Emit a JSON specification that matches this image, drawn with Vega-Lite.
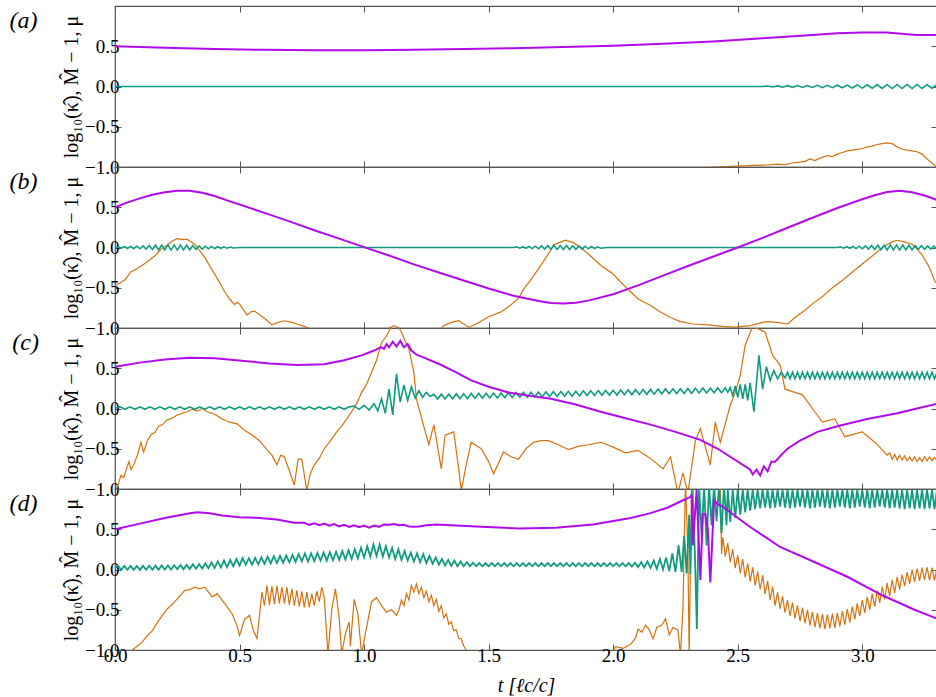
{
"$schema": "https://vega.github.io/schema/vega-lite/v6.json",
"background": "white",
"padding": {"left": 8, "top": 4, "right": 0, "bottom": 0},
"spacing": 0,
"bounds": "flush",
"config": {
 "font": "Liberation Serif",
 "view": {"stroke": "#555", "strokeWidth": 1.2},
 "axis": {"grid": false, "domain": false, "tickColor": "#555", "tickSize": -6, "tickWidth": 1, "labelFont": "Liberation Serif", "labelFontSize": 19, "labelColor": "#000", "titleFont": "Liberation Serif", "titleFontSize": 20, "titleFontWeight": "normal", "titleColor": "#000", "labelFlush": false, "labelPadding": 2},
 "axisY": {"titleFontSize": 20}
},
"datasets": {
"a_k": [{"t":2.3,"v":-1.02},{"t":2.4,"v":-1.0},{"t":2.5,"v":-0.99},{"t":2.56,"v":-0.98},{"t":2.62,"v":-0.975},{"t":2.66,"v":-0.965},{"t":2.69,"v":-0.97},{"t":2.72,"v":-0.95},{"t":2.75,"v":-0.94},{"t":2.77,"v":-0.93},{"t":2.79,"v":-0.9},{"t":2.81,"v":-0.92},{"t":2.83,"v":-0.89},{"t":2.86,"v":-0.86},{"t":2.88,"v":-0.87},{"t":2.9,"v":-0.84},{"t":2.92,"v":-0.82},{"t":2.94,"v":-0.8},{"t":2.96,"v":-0.79},{"t":2.98,"v":-0.78},{"t":3.0,"v":-0.77},{"t":3.02,"v":-0.75},{"t":3.04,"v":-0.74},{"t":3.06,"v":-0.72},{"t":3.08,"v":-0.71},{"t":3.1,"v":-0.7},{"t":3.12,"v":-0.71},{"t":3.14,"v":-0.75},{"t":3.16,"v":-0.78},{"t":3.18,"v":-0.79},{"t":3.2,"v":-0.8},{"t":3.22,"v":-0.81},{"t":3.24,"v":-0.84},{"t":3.26,"v":-0.9},{"t":3.28,"v":-0.95},{"t":3.3,"v":-1.0}],
"a_M": [{"t":0,"v":0},{"t":2.6,"v":0},{"t":2.62,"v":0.006},{"t":2.64,"v":-0.006},{"t":2.66,"v":0.008},{"t":2.68,"v":-0.008},{"t":2.7,"v":0.01},{"t":2.72,"v":-0.01},{"t":2.74,"v":0.012},{"t":2.76,"v":-0.012},{"t":2.78,"v":0.012},{"t":2.8,"v":-0.012},{"t":2.82,"v":0.014},{"t":2.84,"v":-0.014},{"t":2.86,"v":0.015},{"t":2.88,"v":-0.015},{"t":2.9,"v":0.016},{"t":2.92,"v":-0.016},{"t":2.94,"v":0.018},{"t":2.96,"v":-0.018},{"t":2.98,"v":0.02},{"t":3.0,"v":-0.02},{"t":3.02,"v":0.022},{"t":3.04,"v":-0.022},{"t":3.06,"v":0.024},{"t":3.08,"v":-0.024},{"t":3.1,"v":0.025},{"t":3.12,"v":-0.025},{"t":3.14,"v":0.025},{"t":3.16,"v":-0.025},{"t":3.18,"v":0.025},{"t":3.2,"v":-0.025},{"t":3.22,"v":0.025},{"t":3.24,"v":-0.025},{"t":3.26,"v":0.022},{"t":3.28,"v":-0.022},{"t":3.3,"v":0.02}],
"a_mu": [{"t":0,"v":0.5},{"t":0.2,"v":0.48},{"t":0.4,"v":0.465},{"t":0.6,"v":0.455},{"t":0.8,"v":0.45},{"t":1.0,"v":0.45},{"t":1.2,"v":0.455},{"t":1.4,"v":0.465},{"t":1.6,"v":0.475},{"t":1.8,"v":0.49},{"t":2.0,"v":0.505},{"t":2.2,"v":0.53},{"t":2.4,"v":0.56},{"t":2.6,"v":0.6},{"t":2.8,"v":0.64},{"t":2.9,"v":0.66},{"t":3.0,"v":0.67},{"t":3.1,"v":0.67},{"t":3.18,"v":0.65},{"t":3.22,"v":0.64},{"t":3.3,"v":0.64}],
"b_k": [{"t":0,"v":-0.47},{"t":0.02,"v":-0.44},{"t":0.04,"v":-0.4},{"t":0.064,"v":-0.3},{"t":0.08,"v":-0.28},{"t":0.1,"v":-0.24},{"t":0.12,"v":-0.2},{"t":0.145,"v":-0.14},{"t":0.165,"v":-0.09},{"t":0.185,"v":-0.02},{"t":0.21,"v":0.03},{"t":0.23,"v":0.08},{"t":0.25,"v":0.11},{"t":0.27,"v":0.1},{"t":0.29,"v":0.1},{"t":0.305,"v":0.07},{"t":0.32,"v":0.04},{"t":0.337,"v":-0.03},{"t":0.36,"v":-0.12},{"t":0.386,"v":-0.26},{"t":0.41,"v":-0.38},{"t":0.44,"v":-0.55},{"t":0.46,"v":-0.64},{"t":0.48,"v":-0.71},{"t":0.49,"v":-0.68},{"t":0.5,"v":-0.7},{"t":0.515,"v":-0.77},{"t":0.53,"v":-0.84},{"t":0.545,"v":-0.8},{"t":0.56,"v":-0.79},{"t":0.6,"v":-0.88},{"t":0.63,"v":-0.96},{"t":0.655,"v":-0.93},{"t":0.68,"v":-0.91},{"t":0.71,"v":-0.93},{"t":0.73,"v":-0.95},{"t":0.76,"v":-0.98},{"t":0.79,"v":-1.02},{"t":1.08,"v":-1.05},{"t":1.1,"v":-1.0},{"t":1.12,"v":-0.97},{"t":1.14,"v":-1.0},{"t":1.16,"v":-1.05},{"t":1.3,"v":-1.05},{"t":1.32,"v":-0.97},{"t":1.35,"v":-0.93},{"t":1.38,"v":-0.91},{"t":1.4,"v":-0.95},{"t":1.42,"v":-0.99},{"t":1.45,"v":-0.95},{"t":1.5,"v":-0.86},{"t":1.55,"v":-0.8},{"t":1.59,"v":-0.71},{"t":1.62,"v":-0.63},{"t":1.64,"v":-0.52},{"t":1.67,"v":-0.4},{"t":1.71,"v":-0.22},{"t":1.74,"v":-0.08},{"t":1.76,"v":0.03},{"t":1.79,"v":0.07},{"t":1.81,"v":0.09},{"t":1.84,"v":0.06},{"t":1.87,"v":0.0},{"t":1.9,"v":-0.08},{"t":1.95,"v":-0.22},{"t":2.0,"v":-0.33},{"t":2.03,"v":-0.43},{"t":2.07,"v":-0.55},{"t":2.1,"v":-0.64},{"t":2.15,"v":-0.72},{"t":2.19,"v":-0.8},{"t":2.23,"v":-0.87},{"t":2.27,"v":-0.92},{"t":2.32,"v":-0.95},{"t":2.38,"v":-0.96},{"t":2.44,"v":-0.98},{"t":2.49,"v":-0.99},{"t":2.55,"v":-0.97},{"t":2.6,"v":-0.93},{"t":2.62,"v":-0.92},{"t":2.66,"v":-0.93},{"t":2.7,"v":-0.95},{"t":2.73,"v":-0.87},{"t":2.77,"v":-0.78},{"t":2.8,"v":-0.7},{"t":2.84,"v":-0.61},{"t":2.88,"v":-0.5},{"t":2.92,"v":-0.41},{"t":2.97,"v":-0.28},{"t":3.01,"v":-0.18},{"t":3.05,"v":-0.08},{"t":3.09,"v":0.02},{"t":3.12,"v":0.07},{"t":3.14,"v":0.09},{"t":3.17,"v":0.07},{"t":3.2,"v":0.04},{"t":3.22,"v":-0.02},{"t":3.24,"v":-0.09},{"t":3.27,"v":-0.25},{"t":3.29,"v":-0.41},{"t":3.3,"v":-0.45}],
"b_M": [{"t":0,"v":0},{"t":0.0125,"v":0.01},{"t":0.025,"v":-0.01},{"t":0.0375,"v":0.012},{"t":0.05,"v":-0.012},{"t":0.0625,"v":0.014},{"t":0.075,"v":-0.014},{"t":0.0875,"v":0.016},{"t":0.1,"v":-0.016},{"t":0.1125,"v":0.02},{"t":0.125,"v":-0.02},{"t":0.1375,"v":0.024},{"t":0.15,"v":-0.024},{"t":0.1625,"v":0.028},{"t":0.175,"v":-0.028},{"t":0.1875,"v":0.03},{"t":0.2,"v":-0.03},{"t":0.2125,"v":0.032},{"t":0.225,"v":-0.032},{"t":0.2375,"v":0.032},{"t":0.25,"v":-0.032},{"t":0.2625,"v":0.03},{"t":0.275,"v":-0.03},{"t":0.2875,"v":0.028},{"t":0.3,"v":-0.028},{"t":0.3125,"v":0.024},{"t":0.325,"v":-0.024},{"t":0.3375,"v":0.02},{"t":0.35,"v":-0.02},{"t":0.3625,"v":0.016},{"t":0.375,"v":-0.016},{"t":0.3875,"v":0.013},{"t":0.4,"v":-0.013},{"t":0.4125,"v":0.01},{"t":0.425,"v":-0.01},{"t":0.4375,"v":0.008},{"t":0.45,"v":-0.008},{"t":0.4625,"v":0.006},{"t":0.475,"v":-0.006},{"t":0.5,"v":0},{"t":1.6,"v":0},{"t":1.6125,"v":0.008},{"t":1.625,"v":-0.008},{"t":1.6375,"v":0.01},{"t":1.65,"v":-0.01},{"t":1.6625,"v":0.013},{"t":1.675,"v":-0.013},{"t":1.6875,"v":0.016},{"t":1.7,"v":-0.016},{"t":1.7125,"v":0.02},{"t":1.725,"v":-0.02},{"t":1.7375,"v":0.022},{"t":1.75,"v":-0.022},{"t":1.7625,"v":0.025},{"t":1.775,"v":-0.025},{"t":1.7875,"v":0.025},{"t":1.8,"v":-0.025},{"t":1.8125,"v":0.024},{"t":1.825,"v":-0.024},{"t":1.8375,"v":0.022},{"t":1.85,"v":-0.022},{"t":1.8625,"v":0.02},{"t":1.875,"v":-0.02},{"t":1.8875,"v":0.016},{"t":1.9,"v":-0.016},{"t":1.9125,"v":0.012},{"t":1.925,"v":-0.012},{"t":1.9375,"v":0.009},{"t":1.95,"v":-0.009},{"t":1.975,"v":0},{"t":2.9,"v":0},{"t":2.9125,"v":0.008},{"t":2.925,"v":-0.008},{"t":2.9375,"v":0.01},{"t":2.95,"v":-0.01},{"t":2.9625,"v":0.013},{"t":2.975,"v":-0.013},{"t":2.9875,"v":0.016},{"t":3.0,"v":-0.016},{"t":3.0125,"v":0.02},{"t":3.025,"v":-0.02},{"t":3.0375,"v":0.024},{"t":3.05,"v":-0.024},{"t":3.0625,"v":0.028},{"t":3.075,"v":-0.028},{"t":3.0875,"v":0.03},{"t":3.1,"v":-0.03},{"t":3.1125,"v":0.032},{"t":3.125,"v":-0.032},{"t":3.1375,"v":0.032},{"t":3.15,"v":-0.032},{"t":3.1625,"v":0.03},{"t":3.175,"v":-0.03},{"t":3.1875,"v":0.028},{"t":3.2,"v":-0.028},{"t":3.2125,"v":0.025},{"t":3.225,"v":-0.025},{"t":3.2375,"v":0.022},{"t":3.25,"v":-0.022},{"t":3.2625,"v":0.02},{"t":3.275,"v":-0.02},{"t":3.2875,"v":0.018},{"t":3.3,"v":-0.018}],
"b_mu": [{"t":0,"v":0.5},{"t":0.05,"v":0.56},{"t":0.1,"v":0.61},{"t":0.15,"v":0.655},{"t":0.2,"v":0.685},{"t":0.25,"v":0.705},{"t":0.3,"v":0.705},{"t":0.35,"v":0.68},{"t":0.4,"v":0.64},{"t":0.45,"v":0.585},{"t":0.5,"v":0.535},{"t":0.6,"v":0.43},{"t":0.7,"v":0.325},{"t":0.8,"v":0.215},{"t":0.9,"v":0.11},{"t":1.0,"v":0.005},{"t":1.1,"v":-0.1},{"t":1.2,"v":-0.21},{"t":1.3,"v":-0.31},{"t":1.4,"v":-0.41},{"t":1.5,"v":-0.51},{"t":1.6,"v":-0.6},{"t":1.7,"v":-0.665},{"t":1.75,"v":-0.69},{"t":1.8,"v":-0.695},{"t":1.85,"v":-0.685},{"t":1.9,"v":-0.66},{"t":2.0,"v":-0.58},{"t":2.1,"v":-0.47},{"t":2.2,"v":-0.35},{"t":2.3,"v":-0.23},{"t":2.4,"v":-0.115},{"t":2.5,"v":0.0},{"t":2.6,"v":0.12},{"t":2.7,"v":0.245},{"t":2.8,"v":0.37},{"t":2.9,"v":0.49},{"t":3.0,"v":0.6},{"t":3.05,"v":0.65},{"t":3.1,"v":0.69},{"t":3.15,"v":0.705},{"t":3.2,"v":0.685},{"t":3.25,"v":0.645},{"t":3.3,"v":0.59}],
"c_k": [{"t":0,"v":-1.05},{"t":0.015,"v":-0.92},{"t":0.024,"v":-0.83},{"t":0.035,"v":-0.86},{"t":0.045,"v":-0.76},{"t":0.056,"v":-0.66},{"t":0.065,"v":-0.76},{"t":0.075,"v":-0.7},{"t":0.09,"v":-0.58},{"t":0.104,"v":-0.42},{"t":0.115,"v":-0.54},{"t":0.13,"v":-0.4},{"t":0.145,"v":-0.32},{"t":0.16,"v":-0.3},{"t":0.175,"v":-0.22},{"t":0.19,"v":-0.2},{"t":0.21,"v":-0.14},{"t":0.23,"v":-0.12},{"t":0.25,"v":-0.08},{"t":0.27,"v":-0.06},{"t":0.29,"v":-0.04},{"t":0.31,"v":-0.01},{"t":0.33,"v":-0.03},{"t":0.35,"v":0.0},{"t":0.37,"v":-0.04},{"t":0.39,"v":-0.06},{"t":0.41,"v":-0.09},{"t":0.43,"v":-0.13},{"t":0.46,"v":-0.17},{"t":0.49,"v":-0.19},{"t":0.52,"v":-0.27},{"t":0.55,"v":-0.33},{"t":0.58,"v":-0.4},{"t":0.61,"v":-0.51},{"t":0.63,"v":-0.58},{"t":0.65,"v":-0.7},{"t":0.665,"v":-0.58},{"t":0.68,"v":-0.6},{"t":0.72,"v":-0.95},{"t":0.735,"v":-0.63},{"t":0.75,"v":-0.63},{"t":0.77,"v":-1.02},{"t":0.785,"v":-0.8},{"t":0.8,"v":-0.7},{"t":0.82,"v":-0.62},{"t":0.84,"v":-0.5},{"t":0.865,"v":-0.4},{"t":0.89,"v":-0.29},{"t":0.91,"v":-0.22},{"t":0.95,"v":-0.04},{"t":0.97,"v":0.06},{"t":0.99,"v":0.2},{"t":1.01,"v":0.3},{"t":1.03,"v":0.45},{"t":1.05,"v":0.6},{"t":1.07,"v":0.82},{"t":1.09,"v":0.9},{"t":1.11,"v":1.02},{"t":1.13,"v":1.05},{"t":1.15,"v":0.95},{"t":1.17,"v":0.8},{"t":1.18,"v":0.74},{"t":1.2,"v":0.45},{"t":1.21,"v":0.12},{"t":1.235,"v":-0.17},{"t":1.26,"v":-0.45},{"t":1.28,"v":-0.2},{"t":1.31,"v":-0.75},{"t":1.325,"v":-0.33},{"t":1.36,"v":-0.29},{"t":1.38,"v":-0.75},{"t":1.39,"v":-1.02},{"t":1.41,"v":-0.7},{"t":1.43,"v":-0.42},{"t":1.45,"v":-0.46},{"t":1.47,"v":-0.5},{"t":1.5,"v":-0.66},{"t":1.52,"v":-0.81},{"t":1.56,"v":-0.54},{"t":1.59,"v":-0.6},{"t":1.62,"v":-0.63},{"t":1.65,"v":-0.5},{"t":1.68,"v":-0.42},{"t":1.71,"v":-0.4},{"t":1.74,"v":-0.4},{"t":1.78,"v":-0.45},{"t":1.82,"v":-0.51},{"t":1.86,"v":-0.47},{"t":1.9,"v":-0.45},{"t":1.95,"v":-0.42},{"t":2.0,"v":-0.48},{"t":2.05,"v":-0.55},{"t":2.1,"v":-0.52},{"t":2.15,"v":-0.62},{"t":2.2,"v":-0.75},{"t":2.23,"v":-0.6},{"t":2.26,"v":-1.05},{"t":2.28,"v":-0.8},{"t":2.3,"v":-1.05},{"t":2.33,"v":-0.4},{"t":2.35,"v":-0.25},{"t":2.39,"v":-0.7},{"t":2.41,"v":-0.17},{"t":2.43,"v":-0.42},{"t":2.47,"v":0.04},{"t":2.49,"v":0.2},{"t":2.51,"v":0.41},{"t":2.53,"v":0.79},{"t":2.56,"v":1.02},{"t":2.61,"v":0.95},{"t":2.64,"v":0.66},{"t":2.67,"v":0.54},{"t":2.69,"v":0.24},{"t":2.73,"v":0.2},{"t":2.76,"v":0.17},{"t":2.8,"v":0.0},{"t":2.84,"v":-0.17},{"t":2.89,"v":-0.13},{"t":2.93,"v":-0.35},{"t":3.0,"v":-0.29},{"t":3.05,"v":-0.42},{"t":3.07,"v":-0.48},{"t":3.1,"v":-0.58},{"t":3.11,"v":-0.55},{"t":3.12,"v":-0.63},{"t":3.13,"v":-0.57},{"t":3.14,"v":-0.64},{"t":3.15,"v":-0.58},{"t":3.16,"v":-0.64},{"t":3.17,"v":-0.59},{"t":3.18,"v":-0.65},{"t":3.19,"v":-0.6},{"t":3.2,"v":-0.65},{"t":3.21,"v":-0.6},{"t":3.22,"v":-0.66},{"t":3.23,"v":-0.61},{"t":3.24,"v":-0.66},{"t":3.25,"v":-0.6},{"t":3.26,"v":-0.65},{"t":3.27,"v":-0.6},{"t":3.28,"v":-0.65},{"t":3.29,"v":-0.61},{"t":3.3,"v":-0.64}],
"c_M": [{"t":0,"v":0.005},{"t":0.02,"v":0.02},{"t":0.04,"v":-0.01},{"t":0.06,"v":0.02},{"t":0.08,"v":-0.01},{"t":0.1,"v":0.02},{"t":0.12,"v":-0.01},{"t":0.14,"v":0.02},{"t":0.16,"v":-0.01},{"t":0.18,"v":0.02},{"t":0.2,"v":-0.01},{"t":0.22,"v":0.02},{"t":0.24,"v":-0.01},{"t":0.26,"v":0.02},{"t":0.28,"v":-0.01},{"t":0.3,"v":0.02},{"t":0.32,"v":-0.01},{"t":0.34,"v":0.02},{"t":0.36,"v":-0.01},{"t":0.38,"v":0.02},{"t":0.4,"v":-0.01},{"t":0.42,"v":0.02},{"t":0.44,"v":-0.01},{"t":0.46,"v":0.02},{"t":0.48,"v":-0.01},{"t":0.5,"v":0.02},{"t":0.52,"v":-0.01},{"t":0.54,"v":0.02},{"t":0.56,"v":-0.01},{"t":0.58,"v":0.02},{"t":0.6,"v":-0.01},{"t":0.62,"v":0.02},{"t":0.64,"v":-0.01},{"t":0.66,"v":0.02},{"t":0.68,"v":-0.01},{"t":0.7,"v":0.02},{"t":0.72,"v":-0.01},{"t":0.74,"v":0.02},{"t":0.76,"v":-0.01},{"t":0.78,"v":0.02},{"t":0.8,"v":-0.01},{"t":0.82,"v":0.02},{"t":0.84,"v":-0.01},{"t":0.86,"v":0.02},{"t":0.88,"v":-0.01},{"t":0.9,"v":0.02},{"t":0.92,"v":-0.01},{"t":0.94,"v":0.02},{"t":0.96,"v":0.03},{"t":0.98,"v":-0.01},{"t":1.0,"v":0.04},{"t":1.02,"v":-0.02},{"t":1.04,"v":0.06},{"t":1.055,"v":-0.03},{"t":1.07,"v":0.12},{"t":1.085,"v":-0.06},{"t":1.1,"v":0.24},{"t":1.115,"v":-0.08},{"t":1.13,"v":0.43},{"t":1.145,"v":0.08},{"t":1.16,"v":0.29},{"t":1.175,"v":0.1},{"t":1.19,"v":0.27},{"t":1.205,"v":0.13},{"t":1.22,"v":0.22},{"t":1.235,"v":0.14},{"t":1.25,"v":0.2},{"t":1.265,"v":0.15},{"t":1.28,"v":0.176},{"t":1.295,"v":0.117},{"t":1.31,"v":0.178},{"t":1.325,"v":0.118},{"t":1.34,"v":0.179},{"t":1.355,"v":0.12},{"t":1.37,"v":0.181},{"t":1.385,"v":0.121},{"t":1.4,"v":0.182},{"t":1.415,"v":0.123},{"t":1.43,"v":0.187},{"t":1.445,"v":0.127},{"t":1.46,"v":0.188},{"t":1.475,"v":0.129},{"t":1.49,"v":0.19},{"t":1.505,"v":0.131},{"t":1.52,"v":0.191},{"t":1.535,"v":0.132},{"t":1.55,"v":0.193},{"t":1.565,"v":0.134},{"t":1.58,"v":0.197},{"t":1.595,"v":0.138},{"t":1.61,"v":0.199},{"t":1.625,"v":0.14},{"t":1.64,"v":0.2},{"t":1.655,"v":0.141},{"t":1.67,"v":0.202},{"t":1.685,"v":0.143},{"t":1.7,"v":0.204},{"t":1.715,"v":0.144},{"t":1.73,"v":0.208},{"t":1.745,"v":0.149},{"t":1.76,"v":0.21},{"t":1.775,"v":0.15},{"t":1.79,"v":0.211},{"t":1.805,"v":0.152},{"t":1.82,"v":0.213},{"t":1.835,"v":0.153},{"t":1.85,"v":0.214},{"t":1.865,"v":0.155},{"t":1.88,"v":0.22},{"t":1.895,"v":0.161},{"t":1.91,"v":0.221},{"t":1.925,"v":0.162},{"t":1.94,"v":0.223},{"t":1.955,"v":0.164},{"t":1.97,"v":0.224},{"t":1.985,"v":0.165},{"t":2.0,"v":0.226},{"t":2.015,"v":0.167},{"t":2.03,"v":0.23},{"t":2.045,"v":0.171},{"t":2.06,"v":0.232},{"t":2.075,"v":0.173},{"t":2.09,"v":0.234},{"t":2.105,"v":0.174},{"t":2.12,"v":0.235},{"t":2.135,"v":0.176},{"t":2.15,"v":0.237},{"t":2.165,"v":0.177},{"t":2.18,"v":0.241},{"t":2.195,"v":0.182},{"t":2.21,"v":0.243},{"t":2.225,"v":0.183},{"t":2.24,"v":0.244},{"t":2.255,"v":0.185},{"t":2.27,"v":0.246},{"t":2.285,"v":0.187},{"t":2.3,"v":0.247},{"t":2.315,"v":0.188},{"t":2.33,"v":0.252},{"t":2.345,"v":0.193},{"t":2.36,"v":0.253},{"t":2.375,"v":0.194},{"t":2.39,"v":0.255},{"t":2.405,"v":0.196},{"t":2.42,"v":0.256},{"t":2.435,"v":0.197},{"t":2.45,"v":0.258},{"t":2.46,"v":0.2},{"t":2.47,"v":0.26},{"t":2.48,"v":0.16},{"t":2.49,"v":0.28},{"t":2.5,"v":0.14},{"t":2.51,"v":0.3},{"t":2.52,"v":0.12},{"t":2.53,"v":0.3},{"t":2.54,"v":0.1},{"t":2.55,"v":0.32},{"t":2.565,"v":-0.04},{"t":2.585,"v":0.66},{"t":2.6,"v":0.24},{"t":2.615,"v":0.52},{"t":2.63,"v":0.35},{"t":2.645,"v":0.47},{"t":2.66,"v":0.37},{"t":2.675,"v":0.45},{"t":2.69,"v":0.38},{"t":2.7,"v":0.45},{"t":2.71,"v":0.37},{"t":2.72,"v":0.45},{"t":2.73,"v":0.37},{"t":2.74,"v":0.45},{"t":2.75,"v":0.37},{"t":2.76,"v":0.45},{"t":2.77,"v":0.37},{"t":2.78,"v":0.45},{"t":2.79,"v":0.37},{"t":2.8,"v":0.45},{"t":2.81,"v":0.37},{"t":2.82,"v":0.45},{"t":2.83,"v":0.37},{"t":2.84,"v":0.45},{"t":2.85,"v":0.37},{"t":2.86,"v":0.45},{"t":2.87,"v":0.37},{"t":2.88,"v":0.45},{"t":2.89,"v":0.37},{"t":2.9,"v":0.45},{"t":2.91,"v":0.37},{"t":2.92,"v":0.45},{"t":2.93,"v":0.37},{"t":2.94,"v":0.45},{"t":2.95,"v":0.37},{"t":2.96,"v":0.45},{"t":2.97,"v":0.37},{"t":2.98,"v":0.45},{"t":2.99,"v":0.37},{"t":3.0,"v":0.45},{"t":3.01,"v":0.37},{"t":3.02,"v":0.45},{"t":3.03,"v":0.37},{"t":3.04,"v":0.45},{"t":3.05,"v":0.37},{"t":3.06,"v":0.45},{"t":3.07,"v":0.37},{"t":3.08,"v":0.45},{"t":3.09,"v":0.37},{"t":3.1,"v":0.45},{"t":3.11,"v":0.37},{"t":3.12,"v":0.45},{"t":3.13,"v":0.37},{"t":3.14,"v":0.45},{"t":3.15,"v":0.37},{"t":3.16,"v":0.45},{"t":3.17,"v":0.37},{"t":3.18,"v":0.45},{"t":3.19,"v":0.37},{"t":3.2,"v":0.45},{"t":3.21,"v":0.37},{"t":3.22,"v":0.45},{"t":3.23,"v":0.37},{"t":3.24,"v":0.45},{"t":3.25,"v":0.37},{"t":3.26,"v":0.45},{"t":3.27,"v":0.37},{"t":3.28,"v":0.45},{"t":3.29,"v":0.37},{"t":3.3,"v":0.45}],
"c_mu": [{"t":0,"v":0.52},{"t":0.1,"v":0.57},{"t":0.2,"v":0.61},{"t":0.3,"v":0.63},{"t":0.4,"v":0.625},{"t":0.52,"v":0.59},{"t":0.62,"v":0.56},{"t":0.73,"v":0.54},{"t":0.84,"v":0.55},{"t":0.92,"v":0.6},{"t":0.99,"v":0.66},{"t":1.04,"v":0.72},{"t":1.06,"v":0.75},{"t":1.07,"v":0.76},{"t":1.08,"v":0.74},{"t":1.09,"v":0.8},{"t":1.1,"v":0.76},{"t":1.115,"v":0.83},{"t":1.13,"v":0.77},{"t":1.145,"v":0.84},{"t":1.16,"v":0.76},{"t":1.175,"v":0.8},{"t":1.19,"v":0.72},{"t":1.21,"v":0.67},{"t":1.25,"v":0.62},{"t":1.31,"v":0.54},{"t":1.37,"v":0.45},{"t":1.43,"v":0.35},{"t":1.5,"v":0.27},{"t":1.58,"v":0.2},{"t":1.66,"v":0.16},{"t":1.75,"v":0.12},{"t":1.85,"v":0.05},{"t":1.95,"v":-0.04},{"t":2.05,"v":-0.12},{"t":2.15,"v":-0.2},{"t":2.25,"v":-0.29},{"t":2.35,"v":-0.39},{"t":2.42,"v":-0.5},{"t":2.49,"v":-0.64},{"t":2.53,"v":-0.72},{"t":2.55,"v":-0.76},{"t":2.56,"v":-0.82},{"t":2.575,"v":-0.76},{"t":2.59,"v":-0.83},{"t":2.605,"v":-0.72},{"t":2.62,"v":-0.78},{"t":2.635,"v":-0.66},{"t":2.65,"v":-0.66},{"t":2.68,"v":-0.56},{"t":2.7,"v":-0.5},{"t":2.75,"v":-0.4},{"t":2.82,"v":-0.29},{"t":2.9,"v":-0.22},{"t":3.02,"v":-0.13},{"t":3.14,"v":-0.06},{"t":3.22,"v":0.0},{"t":3.3,"v":0.06}],
"d_k": [{"t":0.05,"v":-1.05},{"t":0.07,"v":-1.0},{"t":0.09,"v":-0.95},{"t":0.11,"v":-0.9},{"t":0.13,"v":-0.82},{"t":0.15,"v":-0.76},{"t":0.17,"v":-0.66},{"t":0.19,"v":-0.57},{"t":0.21,"v":-0.49},{"t":0.24,"v":-0.4},{"t":0.26,"v":-0.33},{"t":0.28,"v":-0.26},{"t":0.3,"v":-0.25},{"t":0.32,"v":-0.22},{"t":0.34,"v":-0.24},{"t":0.36,"v":-0.22},{"t":0.38,"v":-0.3},{"t":0.39,"v":-0.34},{"t":0.41,"v":-0.3},{"t":0.44,"v":-0.42},{"t":0.47,"v":-0.55},{"t":0.49,"v":-0.7},{"t":0.5,"v":-0.82},{"t":0.52,"v":-0.62},{"t":0.54,"v":-0.57},{"t":0.555,"v":-0.75},{"t":0.57,"v":-0.86},{"t":0.59,"v":-0.28},{"t":0.6,"v":-0.45},{"t":0.61,"v":-0.2},{"t":0.62,"v":-0.44},{"t":0.63,"v":-0.21},{"t":0.64,"v":-0.43},{"t":0.65,"v":-0.2},{"t":0.66,"v":-0.42},{"t":0.67,"v":-0.22},{"t":0.68,"v":-0.42},{"t":0.69,"v":-0.22},{"t":0.7,"v":-0.44},{"t":0.71,"v":-0.24},{"t":0.72,"v":-0.45},{"t":0.73,"v":-0.26},{"t":0.74,"v":-0.46},{"t":0.75,"v":-0.27},{"t":0.76,"v":-0.47},{"t":0.77,"v":-0.28},{"t":0.78,"v":-0.47},{"t":0.79,"v":-0.3},{"t":0.8,"v":-0.45},{"t":0.81,"v":-0.27},{"t":0.82,"v":-0.4},{"t":0.83,"v":-0.22},{"t":0.84,"v":-0.35},{"t":0.855,"v":-1.05},{"t":0.87,"v":-0.5},{"t":0.885,"v":-0.24},{"t":0.9,"v":-0.6},{"t":0.91,"v":-1.05},{"t":0.925,"v":-0.8},{"t":0.94,"v":-0.65},{"t":0.945,"v":-0.95},{"t":0.96,"v":-0.37},{"t":0.975,"v":-0.55},{"t":0.99,"v":-1.05},{"t":1.005,"v":-0.8},{"t":1.03,"v":-0.4},{"t":1.05,"v":-0.35},{"t":1.07,"v":-0.45},{"t":1.09,"v":-0.53},{"t":1.11,"v":-0.5},{"t":1.13,"v":-0.57},{"t":1.14,"v":-0.5},{"t":1.15,"v":-0.38},{"t":1.16,"v":-0.45},{"t":1.17,"v":-0.3},{"t":1.18,"v":-0.38},{"t":1.19,"v":-0.2},{"t":1.2,"v":-0.28},{"t":1.21,"v":-0.18},{"t":1.22,"v":-0.3},{"t":1.23,"v":-0.22},{"t":1.24,"v":-0.35},{"t":1.25,"v":-0.27},{"t":1.26,"v":-0.4},{"t":1.27,"v":-0.32},{"t":1.28,"v":-0.45},{"t":1.29,"v":-0.37},{"t":1.3,"v":-0.52},{"t":1.31,"v":-0.45},{"t":1.32,"v":-0.6},{"t":1.33,"v":-0.55},{"t":1.34,"v":-0.68},{"t":1.35,"v":-0.65},{"t":1.36,"v":-0.76},{"t":1.37,"v":-0.75},{"t":1.38,"v":-0.86},{"t":1.39,"v":-0.86},{"t":1.4,"v":-0.95},{"t":1.41,"v":-1.0},{"t":1.42,"v":-1.05},{"t":1.99,"v":-1.05},{"t":2.01,"v":-0.96},{"t":2.04,"v":-0.98},{"t":2.07,"v":-0.93},{"t":2.09,"v":-0.85},{"t":2.1,"v":-0.74},{"t":2.115,"v":-0.78},{"t":2.13,"v":-0.69},{"t":2.145,"v":-0.75},{"t":2.16,"v":-0.86},{"t":2.175,"v":-0.72},{"t":2.19,"v":-0.7},{"t":2.2,"v":-0.67},{"t":2.21,"v":-0.61},{"t":2.225,"v":-0.81},{"t":2.24,"v":-0.72},{"t":2.26,"v":-0.75},{"t":2.27,"v":-1.05},{"t":2.28,"v":-0.5},{"t":2.29,"v":1.1},{"t":2.3,"v":0.2},{"t":2.305,"v":-1.05},{"t":2.315,"v":1.1},{"t":2.43,"v":1.1},{"t":2.435,"v":0.19},{"t":2.44,"v":0.4},{"t":2.45,"v":0.163},{"t":2.46,"v":0.327},{"t":2.47,"v":0.09},{"t":2.48,"v":0.253},{"t":2.49,"v":0.017},{"t":2.5,"v":0.18},{"t":2.51,"v":-0.046},{"t":2.52,"v":0.128},{"t":2.53,"v":-0.098},{"t":2.54,"v":0.076},{"t":2.55,"v":-0.15},{"t":2.56,"v":0.026},{"t":2.57,"v":-0.198},{"t":2.58,"v":-0.022},{"t":2.59,"v":-0.246},{"t":2.6,"v":-0.07},{"t":2.61,"v":-0.306},{"t":2.62,"v":-0.142},{"t":2.63,"v":-0.378},{"t":2.64,"v":-0.214},{"t":2.65,"v":-0.45},{"t":2.66,"v":-0.284},{"t":2.67,"v":-0.488},{"t":2.68,"v":-0.332},{"t":2.69,"v":-0.536},{"t":2.7,"v":-0.38},{"t":2.71,"v":-0.576},{"t":2.72,"v":-0.412},{"t":2.73,"v":-0.608},{"t":2.74,"v":-0.444},{"t":2.75,"v":-0.64},{"t":2.76,"v":-0.474},{"t":2.77,"v":-0.668},{"t":2.78,"v":-0.502},{"t":2.79,"v":-0.696},{"t":2.8,"v":-0.53},{"t":2.81,"v":-0.716},{"t":2.82,"v":-0.542},{"t":2.83,"v":-0.728},{"t":2.84,"v":-0.554},{"t":2.85,"v":-0.74},{"t":2.86,"v":-0.556},{"t":2.87,"v":-0.732},{"t":2.88,"v":-0.548},{"t":2.89,"v":-0.724},{"t":2.9,"v":-0.54},{"t":2.91,"v":-0.708},{"t":2.92,"v":-0.516},{"t":2.93,"v":-0.684},{"t":2.94,"v":-0.492},{"t":2.95,"v":-0.66},{"t":2.96,"v":-0.46},{"t":2.97,"v":-0.62},{"t":2.98,"v":-0.42},{"t":2.99,"v":-0.58},{"t":3.0,"v":-0.38},{"t":3.01,"v":-0.54},{"t":3.02,"v":-0.34},{"t":3.03,"v":-0.5},{"t":3.04,"v":-0.3},{"t":3.05,"v":-0.46},{"t":3.06,"v":-0.258},{"t":3.07,"v":-0.416},{"t":3.08,"v":-0.214},{"t":3.09,"v":-0.372},{"t":3.1,"v":-0.17},{"t":3.11,"v":-0.33},{"t":3.12,"v":-0.13},{"t":3.13,"v":-0.29},{"t":3.14,"v":-0.09},{"t":3.15,"v":-0.25},{"t":3.16,"v":-0.064},{"t":3.17,"v":-0.208},{"t":3.18,"v":-0.032},{"t":3.19,"v":-0.176},{"t":3.2,"v":0.0},{"t":3.21,"v":-0.154},{"t":3.22,"v":0.012},{"t":3.23,"v":-0.142},{"t":3.24,"v":0.024},{"t":3.25,"v":-0.13},{"t":3.26,"v":0.028},{"t":3.27,"v":-0.134},{"t":3.28,"v":0.024},{"t":3.29,"v":-0.138},{"t":3.3,"v":0.02}],
"d_M": [{"t":0,"v":0.02},{"t":0.0125,"v":0.045},{"t":0.025,"v":-0.005},{"t":0.0375,"v":0.045},{"t":0.05,"v":-0.005},{"t":0.0625,"v":0.045},{"t":0.075,"v":-0.005},{"t":0.0875,"v":0.045},{"t":0.1,"v":-0.005},{"t":0.1125,"v":0.047},{"t":0.125,"v":-0.003},{"t":0.1375,"v":0.047},{"t":0.15,"v":-0.003},{"t":0.1625,"v":0.048},{"t":0.175,"v":-0.002},{"t":0.1875,"v":0.05},{"t":0.2,"v":0},{"t":0.2125,"v":0.05},{"t":0.225,"v":0},{"t":0.2375,"v":0.052},{"t":0.25,"v":0.002},{"t":0.2625,"v":0.055},{"t":0.275,"v":0.002},{"t":0.2875,"v":0.058},{"t":0.3,"v":0.005},{"t":0.3125,"v":0.065},{"t":0.325,"v":0.01},{"t":0.3375,"v":0.068},{"t":0.35,"v":0.012},{"t":0.3625,"v":0.075},{"t":0.375,"v":0.015},{"t":0.3875,"v":0.085},{"t":0.4,"v":0.02},{"t":0.4125,"v":0.1},{"t":0.425,"v":0.025},{"t":0.4375,"v":0.11},{"t":0.45,"v":0.03},{"t":0.4625,"v":0.12},{"t":0.475,"v":0.04},{"t":0.4875,"v":0.13},{"t":0.5,"v":0.05},{"t":0.5125,"v":0.14},{"t":0.525,"v":0.06},{"t":0.5375,"v":0.14},{"t":0.55,"v":0.06},{"t":0.5625,"v":0.145},{"t":0.575,"v":0.065},{"t":0.5875,"v":0.15},{"t":0.6,"v":0.07},{"t":0.6125,"v":0.16},{"t":0.625,"v":0.075},{"t":0.6375,"v":0.165},{"t":0.65,"v":0.08},{"t":0.6625,"v":0.17},{"t":0.675,"v":0.085},{"t":0.6875,"v":0.175},{"t":0.7,"v":0.09},{"t":0.7125,"v":0.18},{"t":0.725,"v":0.095},{"t":0.7375,"v":0.19},{"t":0.75,"v":0.1},{"t":0.7625,"v":0.2},{"t":0.775,"v":0.1},{"t":0.7875,"v":0.2},{"t":0.8,"v":0.105},{"t":0.8125,"v":0.205},{"t":0.825,"v":0.11},{"t":0.8375,"v":0.21},{"t":0.85,"v":0.11},{"t":0.8625,"v":0.215},{"t":0.875,"v":0.115},{"t":0.8875,"v":0.22},{"t":0.9,"v":0.12},{"t":0.9125,"v":0.23},{"t":0.925,"v":0.125},{"t":0.9375,"v":0.24},{"t":0.95,"v":0.13},{"t":0.9625,"v":0.25},{"t":0.975,"v":0.14},{"t":0.9875,"v":0.27},{"t":1.0,"v":0.15},{"t":1.0125,"v":0.29},{"t":1.025,"v":0.16},{"t":1.0375,"v":0.31},{"t":1.05,"v":0.17},{"t":1.0625,"v":0.31},{"t":1.075,"v":0.16},{"t":1.0875,"v":0.29},{"t":1.1,"v":0.15},{"t":1.1125,"v":0.27},{"t":1.125,"v":0.13},{"t":1.1375,"v":0.25},{"t":1.15,"v":0.12},{"t":1.1625,"v":0.23},{"t":1.175,"v":0.11},{"t":1.1875,"v":0.21},{"t":1.2,"v":0.1},{"t":1.2125,"v":0.2},{"t":1.225,"v":0.09},{"t":1.2375,"v":0.19},{"t":1.25,"v":0.08},{"t":1.2625,"v":0.17},{"t":1.275,"v":0.07},{"t":1.2875,"v":0.15},{"t":1.3,"v":0.06},{"t":1.3125,"v":0.13},{"t":1.325,"v":0.05},{"t":1.3375,"v":0.12},{"t":1.35,"v":0.045},{"t":1.3625,"v":0.11},{"t":1.375,"v":0.04},{"t":1.3875,"v":0.1},{"t":1.4,"v":0.04},{"t":1.4125,"v":0.09},{"t":1.425,"v":0.04},{"t":1.4375,"v":0.085},{"t":1.45,"v":0.04},{"t":1.4625,"v":0.08},{"t":1.475,"v":0.04},{"t":1.4875,"v":0.08},{"t":1.5,"v":0.04},{"t":1.5125,"v":0.08},{"t":1.525,"v":0.04},{"t":1.5375,"v":0.08},{"t":1.55,"v":0.04},{"t":1.5625,"v":0.08},{"t":1.575,"v":0.04},{"t":1.5875,"v":0.08},{"t":1.6,"v":0.04},{"t":1.6125,"v":0.08},{"t":1.625,"v":0.04},{"t":1.6375,"v":0.08},{"t":1.65,"v":0.04},{"t":1.6625,"v":0.08},{"t":1.675,"v":0.04},{"t":1.6875,"v":0.08},{"t":1.7,"v":0.04},{"t":1.7125,"v":0.08},{"t":1.725,"v":0.04},{"t":1.7375,"v":0.08},{"t":1.75,"v":0.04},{"t":1.7625,"v":0.08},{"t":1.775,"v":0.04},{"t":1.7875,"v":0.08},{"t":1.8,"v":0.04},{"t":1.8125,"v":0.08},{"t":1.825,"v":0.04},{"t":1.8375,"v":0.08},{"t":1.85,"v":0.04},{"t":1.8625,"v":0.08},{"t":1.875,"v":0.04},{"t":1.8875,"v":0.08},{"t":1.9,"v":0.04},{"t":1.9125,"v":0.08},{"t":1.925,"v":0.04},{"t":1.9375,"v":0.08},{"t":1.95,"v":0.04},{"t":1.9625,"v":0.08},{"t":1.975,"v":0.04},{"t":1.9875,"v":0.08},{"t":2.0,"v":0.04},{"t":2.0125,"v":0.08},{"t":2.025,"v":0.04},{"t":2.0375,"v":0.08},{"t":2.05,"v":0.04},{"t":2.0625,"v":0.08},{"t":2.075,"v":0.035},{"t":2.0875,"v":0.085},{"t":2.1,"v":0.03},{"t":2.1125,"v":0.09},{"t":2.125,"v":0.025},{"t":2.1375,"v":0.1},{"t":2.15,"v":0.02},{"t":2.1625,"v":0.11},{"t":2.175,"v":0.01},{"t":2.1875,"v":0.13},{"t":2.2,"v":0.0},{"t":2.2125,"v":0.15},{"t":2.225,"v":-0.02},{"t":2.2375,"v":0.2},{"t":2.25,"v":-0.03},{"t":2.2625,"v":0.3},{"t":2.275,"v":-0.03},{"t":2.285,"v":0.42},{"t":2.295,"v":-0.05},{"t":2.305,"v":0.68},{"t":2.31,"v":-0.06},{"t":2.318,"v":1.05},{"t":2.328,"v":0.2},{"t":2.336,"v":-0.74},{"t":2.345,"v":1.05},{"t":2.355,"v":0.4},{"t":2.365,"v":1.05},{"t":2.375,"v":0.3},{"t":2.385,"v":1.05},{"t":2.395,"v":0.55},{"t":2.405,"v":1.05},{"t":2.415,"v":0.6},{"t":2.425,"v":1.05},{"t":2.435,"v":0.45},{"t":2.445,"v":1.05},{"t":2.455,"v":0.55},{"t":2.46,"v":0.99},{"t":2.47,"v":0.59},{"t":2.48,"v":0.99},{"t":2.49,"v":0.64},{"t":2.5,"v":0.99},{"t":2.51,"v":0.68},{"t":2.52,"v":0.99},{"t":2.53,"v":0.71},{"t":2.54,"v":0.99},{"t":2.55,"v":0.73},{"t":2.56,"v":0.99},{"t":2.57,"v":0.75},{"t":2.58,"v":0.99},{"t":2.59,"v":0.76},{"t":2.6,"v":0.99},{"t":2.61,"v":0.77},{"t":2.62,"v":0.99},{"t":2.63,"v":0.76},{"t":2.64,"v":0.99},{"t":2.65,"v":0.77},{"t":2.66,"v":0.99},{"t":2.67,"v":0.78},{"t":2.68,"v":0.99},{"t":2.69,"v":0.77},{"t":2.7,"v":0.99},{"t":2.71,"v":0.76},{"t":2.72,"v":0.99},{"t":2.73,"v":0.77},{"t":2.74,"v":0.99},{"t":2.75,"v":0.78},{"t":2.76,"v":0.99},{"t":2.77,"v":0.77},{"t":2.78,"v":0.99},{"t":2.79,"v":0.76},{"t":2.8,"v":0.99},{"t":2.81,"v":0.77},{"t":2.82,"v":0.99},{"t":2.83,"v":0.78},{"t":2.84,"v":0.99},{"t":2.85,"v":0.77},{"t":2.86,"v":0.99},{"t":2.87,"v":0.76},{"t":2.88,"v":0.99},{"t":2.89,"v":0.77},{"t":2.9,"v":0.99},{"t":2.91,"v":0.78},{"t":2.92,"v":0.99},{"t":2.93,"v":0.77},{"t":2.94,"v":0.99},{"t":2.95,"v":0.76},{"t":2.96,"v":0.99},{"t":2.97,"v":0.77},{"t":2.98,"v":0.99},{"t":2.99,"v":0.78},{"t":3.0,"v":0.99},{"t":3.01,"v":0.77},{"t":3.02,"v":0.99},{"t":3.03,"v":0.76},{"t":3.04,"v":0.99},{"t":3.05,"v":0.77},{"t":3.06,"v":0.99},{"t":3.07,"v":0.78},{"t":3.08,"v":0.99},{"t":3.09,"v":0.77},{"t":3.1,"v":0.99},{"t":3.11,"v":0.76},{"t":3.12,"v":0.99},{"t":3.13,"v":0.77},{"t":3.14,"v":0.99},{"t":3.15,"v":0.76},{"t":3.16,"v":0.99},{"t":3.17,"v":0.75},{"t":3.18,"v":0.99},{"t":3.19,"v":0.76},{"t":3.2,"v":0.99},{"t":3.21,"v":0.75},{"t":3.22,"v":0.99},{"t":3.23,"v":0.76},{"t":3.24,"v":0.99},{"t":3.25,"v":0.75},{"t":3.26,"v":0.99},{"t":3.27,"v":0.76},{"t":3.28,"v":0.99},{"t":3.29,"v":0.75},{"t":3.3,"v":0.99}],
"d_mu": [{"t":0,"v":0.5},{"t":0.1,"v":0.57},{"t":0.2,"v":0.64},{"t":0.3,"v":0.7},{"t":0.33,"v":0.71},{"t":0.38,"v":0.7},{"t":0.43,"v":0.67},{"t":0.5,"v":0.65},{"t":0.58,"v":0.64},{"t":0.65,"v":0.62},{"t":0.72,"v":0.58},{"t":0.76,"v":0.58},{"t":0.78,"v":0.555},{"t":0.8,"v":0.575},{"t":0.82,"v":0.55},{"t":0.84,"v":0.57},{"t":0.86,"v":0.545},{"t":0.88,"v":0.565},{"t":0.9,"v":0.535},{"t":0.92,"v":0.555},{"t":0.94,"v":0.53},{"t":0.96,"v":0.55},{"t":0.98,"v":0.525},{"t":1.0,"v":0.545},{"t":1.02,"v":0.52},{"t":1.04,"v":0.545},{"t":1.06,"v":0.53},{"t":1.08,"v":0.56},{"t":1.1,"v":0.555},{"t":1.12,"v":0.565},{"t":1.14,"v":0.55},{"t":1.16,"v":0.555},{"t":1.18,"v":0.535},{"t":1.2,"v":0.53},{"t":1.22,"v":0.535},{"t":1.25,"v":0.55},{"t":1.29,"v":0.56},{"t":1.35,"v":0.55},{"t":1.47,"v":0.53},{"t":1.62,"v":0.51},{"t":1.77,"v":0.52},{"t":1.92,"v":0.56},{"t":2.07,"v":0.64},{"t":2.15,"v":0.7},{"t":2.22,"v":0.77},{"t":2.28,"v":0.86},{"t":2.31,"v":0.9},{"t":2.315,"v":0.93},{"t":2.32,"v":0.3},{"t":2.335,"v":0.99},{"t":2.35,"v":-0.13},{"t":2.36,"v":0.69},{"t":2.37,"v":0.69},{"t":2.38,"v":0.5},{"t":2.39,"v":-0.16},{"t":2.405,"v":0.86},{"t":2.42,"v":0.81},{"t":2.435,"v":0.79},{"t":2.44,"v":0.78},{"t":2.54,"v":0.55},{"t":2.67,"v":0.28},{"t":2.81,"v":0.09},{"t":2.94,"v":-0.09},{"t":3.08,"v":-0.32},{"t":3.21,"v":-0.5},{"t":3.3,"v":-0.61}]
},
"vconcat": [
{
 "width": 822, "height": 161,
 "title": {"text": "(a)", "orient": "left", "anchor": "end", "angle": 0, "align": "right", "baseline": "top", "fontSize": 24, "fontStyle": "italic", "fontWeight": "normal", "font": "Liberation Serif", "offset": 12, "dx": 16, "dy": 3},
 "layer": [
  {"data": {"name": "a_k"}, "mark": {"type": "line", "clip": true, "color": "#d4730f", "strokeWidth": 1.2},
   "encoding": {"x": {"field": "t", "type": "quantitative", "scale": {"domain": [0, 3.3], "nice": false}, "axis": {"orient": "bottom", "values": [0,0.5,1,1.5,2,2.5,3], "labels": false, "title": null}},
    "y": {"field": "v", "type": "quantitative", "scale": {"domain": [-1, 1], "nice": false}, "axis": {"orient": "left", "values": [-1,-0.5,0,0.5], "format": ".1f", "title": "log₁₀(κ̂), M̂ − 1, μ", "titlePadding": 3}}}},
  {"data": {"name": "a_M"}, "mark": {"type": "line", "clip": true, "color": "#119b7f", "strokeWidth": 1.6},
   "encoding": {"x": {"field": "t", "type": "quantitative", "scale": {"domain": [0, 3.3], "nice": false}, "axis": {"orient": "top", "values": [0,0.5,1,1.5,2,2.5,3], "labels": false, "title": null}},
    "y": {"field": "v", "type": "quantitative", "scale": {"domain": [-1, 1], "nice": false}, "axis": {"orient": "right", "values": [-1,-0.5,0,0.5], "labels": false, "title": null}}}},
  {"data": {"name": "a_mu"}, "mark": {"type": "line", "clip": true, "color": "#b30aec", "strokeWidth": 2},
   "encoding": {"x": {"field": "t", "type": "quantitative", "scale": {"domain": [0, 3.3], "nice": false}, "axis": null},
    "y": {"field": "v", "type": "quantitative", "scale": {"domain": [-1, 1], "nice": false}, "axis": null}}}
 ],
 "resolve": {"axis": {"x": "independent", "y": "independent"}}
},
{
 "width": 822, "height": 161,
 "title": {"text": "(b)", "orient": "left", "anchor": "end", "angle": 0, "align": "right", "baseline": "top", "fontSize": 24, "fontStyle": "italic", "fontWeight": "normal", "font": "Liberation Serif", "offset": 12, "dx": 16, "dy": 3},
 "layer": [
  {"data": {"name": "b_k"}, "mark": {"type": "line", "clip": true, "color": "#d4730f", "strokeWidth": 1.2},
   "encoding": {"x": {"field": "t", "type": "quantitative", "scale": {"domain": [0, 3.3], "nice": false}, "axis": {"orient": "bottom", "values": [0,0.5,1,1.5,2,2.5,3], "labels": false, "title": null}},
    "y": {"field": "v", "type": "quantitative", "scale": {"domain": [-1, 1], "nice": false}, "axis": {"orient": "left", "values": [-1,-0.5,0,0.5], "format": ".1f", "title": "log₁₀(κ̂), M̂ − 1, μ", "titlePadding": 3}}}},
  {"data": {"name": "b_M"}, "mark": {"type": "line", "clip": true, "color": "#119b7f", "strokeWidth": 1.6},
   "encoding": {"x": {"field": "t", "type": "quantitative", "scale": {"domain": [0, 3.3], "nice": false}, "axis": {"orient": "top", "values": [0,0.5,1,1.5,2,2.5,3], "labels": false, "title": null}},
    "y": {"field": "v", "type": "quantitative", "scale": {"domain": [-1, 1], "nice": false}, "axis": {"orient": "right", "values": [-1,-0.5,0,0.5], "labels": false, "title": null}}}},
  {"data": {"name": "b_mu"}, "mark": {"type": "line", "clip": true, "color": "#b30aec", "strokeWidth": 2},
   "encoding": {"x": {"field": "t", "type": "quantitative", "scale": {"domain": [0, 3.3], "nice": false}, "axis": null},
    "y": {"field": "v", "type": "quantitative", "scale": {"domain": [-1, 1], "nice": false}, "axis": null}}}
 ],
 "resolve": {"axis": {"x": "independent", "y": "independent"}}
},
{
 "width": 822, "height": 161,
 "title": {"text": "(c)", "orient": "left", "anchor": "end", "angle": 0, "align": "right", "baseline": "top", "fontSize": 24, "fontStyle": "italic", "fontWeight": "normal", "font": "Liberation Serif", "offset": 12, "dx": 16, "dy": 3},
 "layer": [
  {"data": {"name": "c_k"}, "mark": {"type": "line", "clip": true, "color": "#d4730f", "strokeWidth": 1.2},
   "encoding": {"x": {"field": "t", "type": "quantitative", "scale": {"domain": [0, 3.3], "nice": false}, "axis": {"orient": "bottom", "values": [0,0.5,1,1.5,2,2.5,3], "labels": false, "title": null}},
    "y": {"field": "v", "type": "quantitative", "scale": {"domain": [-1, 1], "nice": false}, "axis": {"orient": "left", "values": [-1,-0.5,0,0.5], "format": ".1f", "title": "log₁₀(κ̂), M̂ − 1, μ", "titlePadding": 3}}}},
  {"data": {"name": "c_M"}, "mark": {"type": "line", "clip": true, "color": "#119b7f", "strokeWidth": 1.6},
   "encoding": {"x": {"field": "t", "type": "quantitative", "scale": {"domain": [0, 3.3], "nice": false}, "axis": {"orient": "top", "values": [0,0.5,1,1.5,2,2.5,3], "labels": false, "title": null}},
    "y": {"field": "v", "type": "quantitative", "scale": {"domain": [-1, 1], "nice": false}, "axis": {"orient": "right", "values": [-1,-0.5,0,0.5], "labels": false, "title": null}}}},
  {"data": {"name": "c_mu"}, "mark": {"type": "line", "clip": true, "color": "#b30aec", "strokeWidth": 2},
   "encoding": {"x": {"field": "t", "type": "quantitative", "scale": {"domain": [0, 3.3], "nice": false}, "axis": null},
    "y": {"field": "v", "type": "quantitative", "scale": {"domain": [-1, 1], "nice": false}, "axis": null}}}
 ],
 "resolve": {"axis": {"x": "independent", "y": "independent"}}
},
{
 "width": 822, "height": 161,
 "title": {"text": "(d)", "orient": "left", "anchor": "end", "angle": 0, "align": "right", "baseline": "top", "fontSize": 24, "fontStyle": "italic", "fontWeight": "normal", "font": "Liberation Serif", "offset": 12, "dx": 16, "dy": 3},
 "layer": [
  {"data": {"name": "d_k"}, "mark": {"type": "line", "clip": true, "color": "#d4730f", "strokeWidth": 1.2},
   "encoding": {"x": {"field": "t", "type": "quantitative", "scale": {"domain": [0, 3.3], "nice": false}, "axis": {"orient": "bottom", "values": [0,0.5,1,1.5,2,2.5,3], "format": ".1f", "title": "t    [ℓc/c]", "titleFontStyle": "italic", "titlePadding": 10}},
    "y": {"field": "v", "type": "quantitative", "scale": {"domain": [-1, 1], "nice": false}, "axis": {"orient": "left", "values": [-1,-0.5,0,0.5], "format": ".1f", "title": "log₁₀(κ̂), M̂ − 1, μ", "titlePadding": 3}}}},
  {"data": {"name": "d_M"}, "mark": {"type": "line", "clip": true, "color": "#119b7f", "strokeWidth": 1.8},
   "encoding": {"x": {"field": "t", "type": "quantitative", "scale": {"domain": [0, 3.3], "nice": false}, "axis": {"orient": "top", "values": [0,0.5,1,1.5,2,2.5,3], "labels": false, "title": null}},
    "y": {"field": "v", "type": "quantitative", "scale": {"domain": [-1, 1], "nice": false}, "axis": {"orient": "right", "values": [-1,-0.5,0,0.5], "labels": false, "title": null}}}},
  {"data": {"name": "d_mu"}, "mark": {"type": "line", "clip": true, "color": "#b30aec", "strokeWidth": 2},
   "encoding": {"x": {"field": "t", "type": "quantitative", "scale": {"domain": [0, 3.3], "nice": false}, "axis": null},
    "y": {"field": "v", "type": "quantitative", "scale": {"domain": [-1, 1], "nice": false}, "axis": null}}}
 ],
 "resolve": {"axis": {"x": "independent", "y": "independent"}}
}
]
}
